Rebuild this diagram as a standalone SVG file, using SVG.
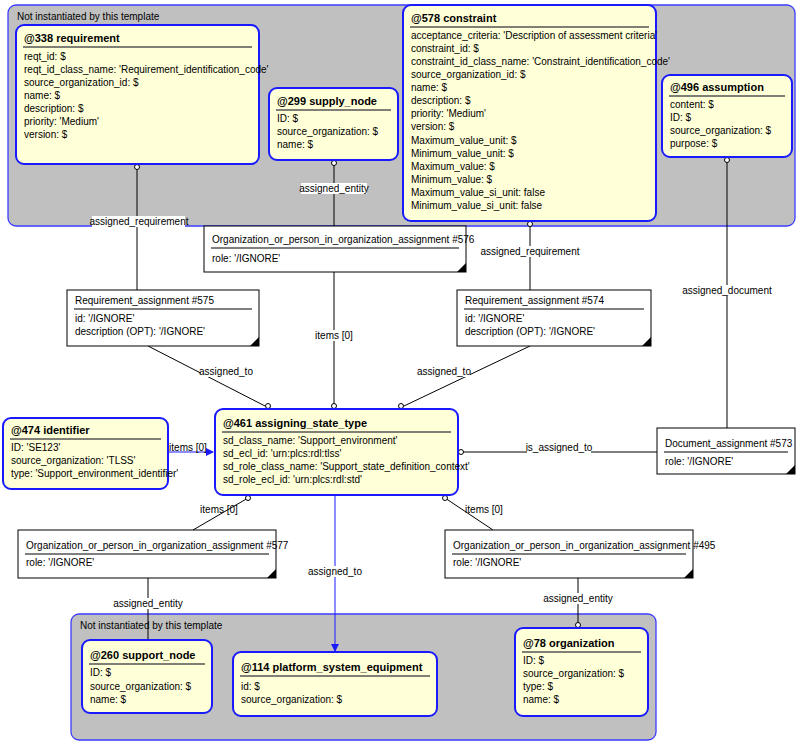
<svg xmlns="http://www.w3.org/2000/svg" width="802" height="747" viewBox="0 0 802 747">
<defs>
<style>
text{font-family:"Liberation Sans",Arial,sans-serif;font-size:10px;fill:#000}
.t{font-weight:bold;font-size:11px}
.grp{fill:#c0c0c0;stroke:#3c3cff;stroke-width:1.3}
.ent{fill:#ffffd8;stroke:#1a1aff;stroke-width:2}
.rel{fill:#fff;stroke:#000;stroke-width:1}
.ul{stroke:#555;stroke-width:1.5}
.c{stroke:#000;stroke-width:1;fill:none}
.cb{stroke:#1a1aff;stroke-width:1;fill:none}
.o{fill:#fff;stroke:#000;stroke-width:1}
.lb{text-anchor:middle}
.bg{fill:#fff}
</style>
<marker id="ar" markerWidth="8" markerHeight="8" refX="7" refY="4" orient="auto" markerUnits="userSpaceOnUse"><path d="M0,0L8,4L0,8z" fill="#1a1aff"/></marker>
</defs>
<rect width="802" height="747" fill="#fff"/>
<g id="group-top"><rect class="grp" x="8" y="5" width="787" height="221" rx="8"/><text x="17" y="20">Not instantiated by this template</text></g>
<g id="group-bottom"><rect class="grp" x="71" y="614" width="585" height="126" rx="8"/><text x="80" y="629">Not instantiated by this template</text></g>

<g id="connectors">
<path class="c" d="M137,164V290"/><rect class="bg" x="92" y="216" width="93" height="11"/><text class="lb" x="139" y="225">assigned_requirement</text>
<path class="c" d="M334,160V226"/><rect class="bg" x="301" y="183" width="66" height="11"/><text class="lb" x="334" y="192">assigned_entity</text>
<path class="c" d="M334,272V405"/><rect class="bg" x="316" y="330" width="37" height="11"/><text class="lb" x="334" y="339">items [0]</text>
<path class="c" d="M148,346L265,406"/><rect class="bg" x="201" y="366" width="52" height="11"/><text class="lb" x="226" y="375">assigned_to</text>
<path class="c" d="M530,346L404,406"/><rect class="bg" x="418" y="366" width="52" height="11"/><text class="lb" x="444" y="375">assigned_to</text>
<path class="c" d="M530,221V290"/><rect class="bg" x="484" y="246" width="93" height="11"/><text class="lb" x="530" y="255">assigned_requirement</text>
<path class="c" d="M727,157V428"/><rect class="bg" x="685" y="285" width="84" height="11"/><text class="lb" x="727" y="294">assigned_document</text>
<path class="c" d="M657,452H462"/><rect class="bg" x="527" y="442" width="64" height="11"/><text class="lb" x="559" y="451">is_assigned_to</text>
<path class="cb" d="M168,452H213" marker-end="url(#ar)"/><text class="lb" x="188" y="451">items [0]</text>
<path class="c" d="M248,498L193,530"/><text class="lb" x="219" y="513">items [0]</text>
<path class="c" d="M445,498L493,530"/><text class="lb" x="484" y="513">items [0]</text>
<path class="c" d="M148,578V640"/><rect class="bg" x="113" y="598" width="68" height="11"/><text class="lb" x="148" y="607">assigned_entity</text>
<path class="c" d="M578,578V624"/><rect class="bg" x="544" y="593" width="68" height="11"/><text class="lb" x="578" y="602">assigned_entity</text>
<path class="cb" d="M335,495V651" marker-end="url(#ar)"/><rect class="bg" x="309" y="566" width="52" height="11"/><text class="lb" x="335" y="575">assigned_to</text>
<circle class="o" cx="137" cy="167" r="2.5"/>
<circle class="o" cx="334" cy="163" r="2.5"/>
<circle class="o" cx="530" cy="224" r="2.5"/>
<circle class="o" cx="727" cy="160" r="2.5"/>
<circle class="o" cx="334" cy="406" r="2.5"/>
<circle class="o" cx="268" cy="406" r="2.5"/>
<circle class="o" cx="401" cy="406" r="2.5"/>
<circle class="o" cx="461" cy="452" r="2.5"/>
<circle class="o" cx="248" cy="498" r="2.5"/>
<circle class="o" cx="445" cy="498" r="2.5"/>
<circle class="o" cx="578" cy="625" r="2.5"/>
</g>

<g id="n338"><rect class="ent" x="16" y="25" width="243" height="139" rx="8"/><text class="t" x="24" y="42">@338 requirement</text><path class="ul" d="M23,47H252"/>
<text x="24" y="60">reqt_id: $</text><text x="24" y="73">reqt_id_class_name: 'Requirement_identification_code'</text><text x="24" y="86">source_organization_id: $</text><text x="24" y="99">name: $</text><text x="24" y="112">description: $</text><text x="24" y="125">priority: 'Medium'</text><text x="24" y="138">version: $</text></g>

<g id="n299"><rect class="ent" x="269" y="88" width="129" height="72" rx="8"/><text class="t" x="277" y="105">@299 supply_node</text><path class="ul" d="M276,110H391"/>
<text x="277" y="122">ID: $</text><text x="277" y="135">source_organization: $</text><text x="277" y="148">name: $</text></g>

<g id="n578"><rect class="ent" x="403" y="5" width="253" height="216" rx="8"/><text class="t" x="411" y="22">@578 constraint</text><path class="ul" d="M410,27H649"/>
<text x="411" y="39">acceptance_criteria: 'Description of assessment criteria'</text><text x="411" y="52">constraint_id: $</text><text x="411" y="65">constraint_id_class_name: 'Constraint_identification_code'</text><text x="411" y="78">source_organization_id: $</text><text x="411" y="91">name: $</text><text x="411" y="104">description: $</text><text x="411" y="117">priority: 'Medium'</text><text x="411" y="130">version: $</text><text x="411" y="144">Maximum_value_unit: $</text><text x="411" y="157">Minimum_value_unit: $</text><text x="411" y="170">Maximum_value: $</text><text x="411" y="183">Minimum_value: $</text><text x="411" y="196">Maximum_value_si_unit: false</text><text x="411" y="209">Minimum_value_si_unit: false</text></g>

<g id="n496"><rect class="ent" x="662" y="75" width="130" height="82" rx="8"/><text class="t" x="670" y="91">@496 assumption</text><path class="ul" d="M669,96H785"/>
<text x="670" y="108">content: $</text><text x="670" y="121">ID: $</text><text x="670" y="134">source_organization: $</text><text x="670" y="147">purpose: $</text></g>

<g id="n576"><rect class="rel" x="204" y="226" width="262" height="46"/><text x="212" y="243">Organization_or_person_in_organization_assignment  #576</text><path class="ul" d="M211,248H459"/><text x="212" y="262">role: '/IGNORE'</text><path d="M466,272h-9l9,-9z"/></g>

<g id="n575"><rect class="rel" x="67" y="290" width="192" height="56"/><text x="75" y="304">Requirement_assignment  #575</text><path class="ul" d="M74,309H252"/><text x="75" y="322">id: '/IGNORE'</text><text x="75" y="335">description (OPT): '/IGNORE'</text><path d="M259,346h-9l9,-9z"/></g>

<g id="n574"><rect class="rel" x="457" y="290" width="194" height="56"/><text x="465" y="304">Requirement_assignment  #574</text><path class="ul" d="M464,309H644"/><text x="465" y="322">id: '/IGNORE'</text><text x="465" y="335">description (OPT): '/IGNORE'</text><path d="M651,346h-9l9,-9z"/></g>

<g id="n573"><rect class="rel" x="657" y="428" width="138" height="46"/><text x="665" y="447">Document_assignment  #573</text><path class="ul" d="M664,452H788"/><text x="665" y="465">role: '/IGNORE'</text><path d="M795,474h-9l9,-9z"/></g>

<g id="n474"><rect class="ent" x="3" y="418" width="165" height="71" rx="8"/><text class="t" x="11" y="434">@474 identifier</text><path class="ul" d="M10,439H161"/>
<text x="11" y="451">ID: 'SE123'</text><text x="11" y="464">source_organization: 'TLSS'</text><text x="11" y="477">type: 'Support_environment_identifier'</text></g>

<g id="n461"><rect class="ent" x="215" y="409" width="243" height="86" rx="8"/><text class="t" x="223" y="427">@461  assigning_state_type</text><path class="ul" d="M222,432H451"/>
<text x="223" y="444">sd_class_name: 'Support_environment'</text><text x="223" y="457">sd_ecl_id: 'urn:plcs:rdl:tlss'</text><text x="223" y="470">sd_role_class_name: 'Support_state_definition_context'</text><text x="223" y="483">sd_role_ecl_id: 'urn:plcs:rdl:std'</text></g>

<g id="n577"><rect class="rel" x="18" y="530" width="258" height="48"/><text x="26" y="549">Organization_or_person_in_organization_assignment  #577</text><path class="ul" d="M25,554H269"/><text x="26" y="566">role: '/IGNORE'</text><path d="M276,578h-9l9,-9z"/></g>

<g id="n495"><rect class="rel" x="445" y="530" width="248" height="48"/><text x="453" y="549">Organization_or_person_in_organization_assignment    #495</text><path class="ul" d="M452,554H686"/><text x="453" y="566">role: '/IGNORE'</text><path d="M693,578h-9l9,-9z"/></g>

<g id="n260"><rect class="ent" x="82" y="640" width="130" height="73" rx="8"/><text class="t" x="90" y="659">@260 support_node</text><path class="ul" d="M89,664H205"/>
<text x="90" y="676">ID: $</text><text x="90" y="690">source_organization: $</text><text x="90" y="703">name: $</text></g>

<g id="n114"><rect class="ent" x="233" y="652" width="204" height="64" rx="8"/><text class="t" x="241" y="671">@114  platform_system_equipment</text><path class="ul" d="M240,676H430"/>
<text x="241" y="690">id: $</text><text x="241" y="703">source_organization: $</text></g>

<g id="n78"><rect class="ent" x="515" y="628" width="133" height="88" rx="8"/><text class="t" x="523" y="647">@78 organization</text><path class="ul" d="M522,652H641"/>
<text x="523" y="664">ID: $</text><text x="523" y="677">source_organization: $</text><text x="523" y="690">type: $</text><text x="523" y="703">name: $</text></g>
</svg>
